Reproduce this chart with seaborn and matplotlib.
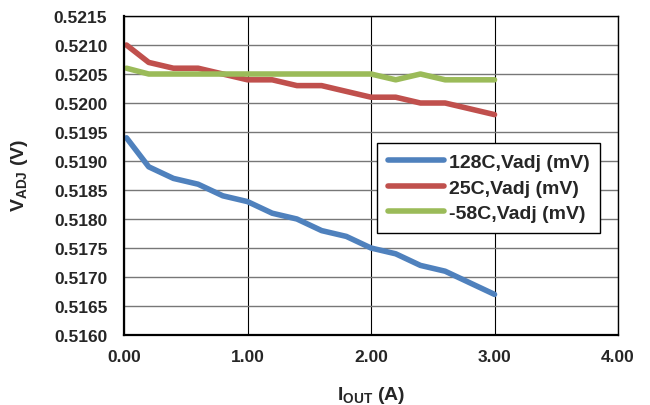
import numpy as np
import pandas as pd
import matplotlib
matplotlib.use("Agg")
import matplotlib.pyplot as plt
import seaborn as sns

sns.set_style("white")
plt.rcParams['font.family'] = ['Liberation Sans', 'DejaVu Sans']
plt.rcParams['mathtext.fontset'] = 'custom'
plt.rcParams['mathtext.rm'] = 'Liberation Sans:bold'
plt.rcParams['mathtext.bf'] = 'Liberation Sans:bold'
plt.rcParams['mathtext.it'] = 'Liberation Sans:bold'

# Output current (A)
iout = [0.02, 0.2, 0.4, 0.6, 0.8, 1.0, 1.2, 1.4, 1.6, 1.8, 2.0, 2.2, 2.4, 2.6, 2.8, 3.0]

# Vadj for each temperature (V)
v_128c = [0.5194, 0.5189, 0.5187, 0.5186, 0.5184, 0.5183, 0.5181, 0.5180,
          0.5178, 0.5177, 0.5175, 0.5174, 0.5172, 0.5171, 0.5169, 0.5167]
v_25c = [0.5210, 0.5207, 0.5206, 0.5206, 0.5205, 0.5204, 0.5204, 0.5203,
         0.5203, 0.5202, 0.5201, 0.5201, 0.5200, 0.5200, 0.5199, 0.5198]
v_m58c = [0.5206, 0.5205, 0.5205, 0.5205, 0.5205, 0.5205, 0.5205, 0.5205,
          0.5205, 0.5205, 0.5205, 0.5204, 0.5205, 0.5204, 0.5204, 0.5204]

series_names = ['128C,Vadj (mV)', '25C,Vadj (mV)', '-58C,Vadj (mV)']
colors = ['#4F81BD', '#C0504D', '#9BBB59']

x_ticks = [0.0, 1.0, 2.0, 3.0, 4.0]
y_ticks = [0.5160, 0.5165, 0.5170, 0.5175, 0.5180, 0.5185, 0.5190,
           0.5195, 0.5200, 0.5205, 0.5210, 0.5215]

df = pd.concat([
    pd.DataFrame({'iout': iout, 'v': v_128c, 'series': series_names[0]}),
    pd.DataFrame({'iout': iout, 'v': v_25c, 'series': series_names[1]}),
    pd.DataFrame({'iout': iout, 'v': v_m58c, 'series': series_names[2]}),
])

fig = plt.figure(figsize=(6.5, 4.06), dpi=100)
ax = fig.add_axes([0.1908, 0.1724, 0.76, 0.7857])

sns.lineplot(data=df, x='iout', y='v', hue='series', palette=colors,
             linewidth=4, ax=ax, sort=False, estimator=None)

ax.set_xlim(0, 4)
ax.set_ylim(0.5160, 0.5215)
ax.set_xticks(x_ticks)
ax.set_yticks(y_ticks)
ax.set_xticklabels([f'{t:.2f}' for t in x_ticks])
ax.set_yticklabels([f'{t:.4f}' for t in y_ticks])
ax.tick_params(axis='y', labelsize=12.5, length=0, pad=12)
ax.tick_params(axis='x', labelsize=12.5, length=0, pad=10)
for lbl in ax.get_xticklabels() + ax.get_yticklabels():
    lbl.set_fontweight('bold')

ax.grid(True, axis='y', color='#777777', linewidth=1)
ax.grid(True, axis='x', color='black', linewidth=0.8)
ax.set_axisbelow(True)
for side in ['left', 'bottom']:
    ax.spines[side].set_linewidth(1.6)
    ax.spines[side].set_color('black')
for side in ['top', 'right']:
    ax.spines[side].set_linewidth(1.0)
    ax.spines[side].set_color('black')

ax.set_xlabel(r'$\mathrm{I_{OUT}}$ (A)', fontsize=14, fontweight='bold')
ax.set_ylabel(r'$\mathrm{V_{ADJ}}$ (V)', fontsize=14, fontweight='bold')
ax.xaxis.set_label_coords(0.5, -0.155)
ax.yaxis.set_label_coords(-0.19, 0.505)

leg = ax.legend(loc='upper left', bbox_to_anchor=(0.512, 0.602), borderaxespad=0,
                frameon=True, fancybox=False, edgecolor='black', framealpha=1,
                prop={'weight': 'bold', 'size': 14}, handlelength=2.9,
                borderpad=0.55, labelspacing=0.4, handletextpad=0.25)
leg.get_frame().set_linewidth(1.0)
for line in leg.get_lines():
    line.set_linewidth(4)

fig.savefig('out.png', dpi=100)
